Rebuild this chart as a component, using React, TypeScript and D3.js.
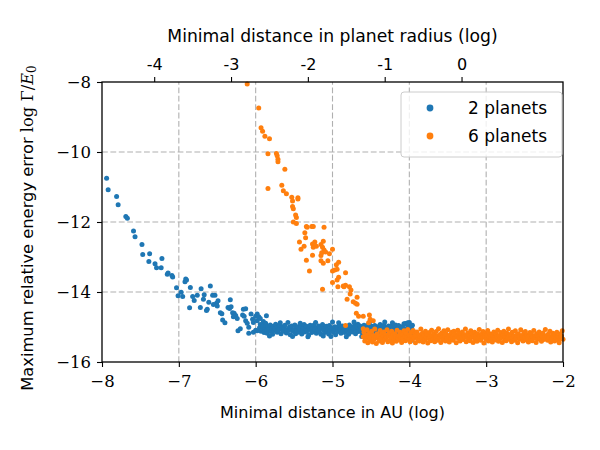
import { useEffect, useRef } from 'react';
import * as d3 from 'd3';

type Pt = [number, number];

// 2 planets: sparse run down from the close encounters
const twoPlanetsSteep: Pt[] = [
  [-7.94, -10.75], [-7.92, -11.08], [-7.81, -11.27], [-7.79, -11.51], [-7.69, -11.84], [-7.67, -11.89],
  [-7.59, -12.26], [-7.57, -12.42], [-7.48, -12.64], [-7.47, -12.93], [-7.38, -12.91], [-7.39, -13.13],
  [-7.31, -13.19], [-7.29, -13.31], [-7.23, -13.31], [-7.22, -13.04], [-7.15, -13.49], [-7.14, -13.46],
  [-7.09, -13.53], [-7.08, -13.57], [-6.91, -13.63], [-6.92, -13.71], [-6.90, -13.66], [-7.03, -13.88],
  [-7.01, -14.11], [-6.97, -14.01], [-6.95, -14.13], [-6.85, -13.87], [-6.86, -14.45], [-6.82, -14.13],
  [-6.80, -14.24], [-6.76, -14.09], [-6.72, -14.44], [-6.71, -13.91], [-6.68, -14.21], [-6.67, -14.08],
  [-6.63, -14.49], [-6.64, -14.53], [-6.61, -14.29], [-6.59, -13.83], [-6.56, -14.09], [-6.53, -14.09],
  [-6.55, -14.36], [-6.51, -14.32], [-6.49, -14.25], [-6.50, -14.40], [-6.46, -14.59], [-6.44, -14.62],
  [-6.43, -14.80], [-6.40, -14.88], [-6.36, -14.44], [-6.33, -14.22], [-6.34, -14.47], [-6.32, -14.42],
  [-6.30, -14.59], [-6.28, -14.61], [-6.26, -14.67], [-6.29, -14.71], [-6.24, -14.76], [-6.23, -15.11],
  [-6.20, -15.05], [-6.16, -14.49], [-6.13, -14.48], [-6.17, -14.66], [-6.15, -14.69], [-6.13, -14.82],
  [-6.11, -14.89], [-6.09, -15.01], [-6.09, -15.18], [-6.06, -14.63], [-6.04, -14.78], [-6.03, -14.87],
  [-6.03, -15.15], [-6.00, -14.69], [-6.00, -15.09], [-5.98, -14.82], [-5.98, -14.63], [-5.96, -14.71],
  [-5.94, -14.76], [-5.90, -14.84], [-5.92, -14.95], [-5.88, -14.99], [-5.87, -14.89], [-5.84, -15.07],
  [-5.98, -15.11], [-5.86, -14.68],
];

// 2 planets: error floor
const twoPlanetsFloor: Pt[] = [
  [-5.95, -15.02], [-5.94, -14.93], [-5.93, -15.12], [-5.92, -15.05], [-5.91, -14.97], [-5.89, -15.16], [-5.88, -15.04], [-5.87, -14.95], [-5.86, -15.09],
  [-5.85, -15.18], [-5.84, -14.99], [-5.83, -15.07], [-5.81, -14.94], [-5.80, -15.13], [-5.79, -15.03], [-5.78, -15.21], [-5.77, -14.98], [-5.76, -15.10],
  [-5.75, -15.05], [-5.74, -14.92], [-5.72, -15.15], [-5.71, -15.01], [-5.70, -15.08], [-5.69, -14.96], [-5.67, -15.19], [-5.66, -15.06], [-5.65, -14.99],
  [-5.64, -15.12], [-5.63, -15.02], [-5.62, -14.95], [-5.60, -15.17], [-5.59, -15.07], [-5.58, -14.87], [-5.57, -15.10], [-5.56, -15.00], [-5.55, -15.22],
  [-5.54, -15.04], [-5.53, -14.97], [-5.51, -15.13], [-5.50, -15.08], [-5.49, -14.94], [-5.48, -15.19], [-5.47, -15.03], [-5.46, -15.11], [-5.45, -14.99],
  [-5.44, -15.15], [-5.43, -15.06], [-5.41, -14.96], [-5.40, -15.20], [-5.39, -15.09], [-5.38, -15.01], [-5.37, -14.93], [-5.36, -15.14], [-5.35, -15.05],
  [-5.34, -14.98], [-5.33, -15.11], [-5.31, -15.23], [-5.30, -15.03], [-5.29, -14.95], [-5.28, -15.08], [-5.27, -15.16], [-5.26, -15.00], [-5.25, -15.12],
  [-5.24, -14.94], [-5.23, -15.06], [-5.21, -15.18], [-5.20, -15.02], [-5.19, -15.10], [-5.18, -14.97], [-5.17, -15.14], [-5.16, -15.05], [-5.15, -15.21],
  [-5.14, -15.01], [-5.13, -14.93], [-5.11, -15.09], [-5.10, -15.16], [-5.09, -15.04], [-5.08, -14.98], [-5.07, -15.12], [-5.06, -15.07], [-5.05, -15.20],
  [-5.04, -14.96], [-5.03, -15.10], [-5.01, -15.03], [-5.00, -14.86], [-4.99, -15.15], [-4.98, -15.06], [-4.97, -14.99], [-4.96, -15.22], [-4.95, -15.08],
  [-4.94, -15.01], [-4.93, -15.13], [-4.91, -14.95], [-4.90, -15.07], [-4.89, -15.18], [-4.88, -15.03], [-4.87, -14.97], [-4.86, -15.11], [-4.85, -15.05],
  [-4.84, -15.16], [-4.83, -14.98], [-4.81, -15.09], [-4.80, -15.02], [-4.79, -15.21], [-4.78, -14.94], [-4.77, -15.12], [-4.76, -15.06], [-4.75, -14.99],
  [-4.74, -15.14], [-4.73, -15.04], [-4.71, -14.96], [-4.70, -15.19], [-4.69, -15.08], [-4.68, -15.00], [-4.67, -14.92], [-4.66, -15.13], [-4.65, -15.05],
  [-4.64, -14.97], [-4.63, -15.10], [-4.61, -15.17], [-4.60, -15.03], [-4.59, -14.95], [-4.58, -15.08], [-4.57, -15.22], [-4.56, -15.01], [-4.55, -15.12],
  [-4.54, -14.94], [-4.53, -15.06], [-4.51, -15.15], [-4.50, -15.02], [-4.49, -14.98], [-4.48, -15.10], [-4.47, -15.19], [-4.46, -15.04], [-4.45, -14.96],
  [-4.44, -15.13], [-4.43, -15.07], [-4.41, -14.99], [-4.40, -15.17], [-4.39, -15.03], [-4.38, -14.93], [-4.37, -15.11], [-4.36, -15.05], [-4.35, -15.20],
  [-4.34, -15.00], [-4.33, -14.95], [-4.31, -15.14], [-4.30, -15.08], [-4.29, -15.02], [-4.28, -15.18], [-4.27, -14.97], [-4.26, -15.10], [-4.25, -15.06],
  [-4.24, -14.98], [-4.23, -15.12], [-4.22, -14.88], [-4.21, -15.04], [-4.20, -15.16], [-4.19, -15.01], [-4.18, -14.94], [-4.17, -15.09], [-4.16, -15.21], [-4.15, -15.05],
  [-4.14, -14.96], [-4.13, -15.13], [-4.11, -15.07], [-4.10, -14.99], [-4.09, -15.18], [-4.08, -15.03], [-4.07, -14.91], [-4.06, -15.11], [-4.05, -14.90],
  [-4.04, -15.06], [-4.03, -15.15], [-4.02, -14.97], [-4.01, -15.02], [-4.00, -14.87], [-3.99, -15.10], [-3.98, -15.24], [-3.97, -15.04], [-3.96, -14.95],
  [-3.95, -15.13], [-3.94, -15.30], [-3.97, -15.38], [-3.99, -15.32], [-4.02, -14.88],
  [-5.82, -15.26], [-5.68, -14.88], [-5.52, -15.27], [-5.42, -14.89], [-5.32, -15.28], [-5.22, -14.87], [-5.12, -15.26],
  [-5.02, -15.27], [-4.92, -14.88], [-4.82, -15.28], [-4.72, -14.86], [-4.62, -15.27], [-4.52, -14.87], [-4.32, -14.86],
];

// 6 planets: steep branch
const sixPlanetsSteep: Pt[] = [
  [-6.11, -8.06], [-5.96, -8.74], [-5.93, -9.31], [-5.91, -9.41], [-5.88, -9.55], [-5.82, -9.62],
  [-5.84, -10.05], [-5.73, -10.04], [-5.72, -10.11], [-5.71, -10.21], [-5.71, -10.28], [-5.62, -10.49],
  [-5.84, -11.04], [-5.66, -10.95], [-5.64, -11.11], [-5.60, -11.19], [-5.53, -11.29], [-5.45, -11.31],
  [-5.52, -11.40], [-5.45, -11.34], [-5.52, -11.56], [-5.51, -11.62], [-5.48, -11.80], [-5.47, -11.87],
  [-5.51, -12.00], [-5.47, -12.04], [-5.34, -12.13], [-5.33, -12.15], [-5.27, -12.13], [-5.25, -12.13],
  [-5.11, -12.15], [-5.36, -12.31], [-5.35, -12.45], [-5.43, -12.57], [-5.41, -12.78], [-5.37, -12.69],
  [-5.26, -12.63], [-5.23, -12.57], [-5.25, -12.72], [-5.21, -12.69], [-5.15, -12.64], [-5.12, -12.55],
  [-5.13, -12.72], [-5.11, -12.80], [-5.14, -12.88], [-5.09, -12.86], [-5.04, -12.91], [-5.00, -12.78],
  [-5.15, -12.96], [-5.26, -12.95], [-5.34, -13.09], [-5.15, -13.11], [-5.12, -13.18], [-5.06, -13.11],
  [-5.30, -13.40], [-4.95, -13.22], [-4.92, -13.15], [-5.00, -13.40], [-4.97, -13.37], [-4.94, -13.35],
  [-4.83, -13.45], [-4.92, -13.58], [-4.94, -13.66], [-5.00, -13.73], [-4.93, -13.85], [-4.85, -13.85],
  [-4.83, -13.81], [-4.78, -13.85], [-4.76, -13.94], [-4.77, -14.06], [-4.68, -14.15], [-4.81, -14.21],
  [-4.73, -14.28], [-4.68, -14.35], [-5.13, -13.92], [-4.86, -13.83], [-4.70, -14.32], [-4.69, -14.61],
  [-4.66, -14.69], [-4.60, -14.69], [-4.52, -14.66], [-4.51, -14.78], [-4.47, -14.82], [-4.53, -14.88],
  [-4.60, -15.05], [-4.83, -14.96],
];

// 6 planets: error floor
const sixPlanetsFloor: Pt[] = [
  [-4.60, -15.28], [-4.59, -15.15], [-4.58, -15.40], [-4.57, -15.22], [-4.56, -15.33], [-4.55, -15.08], [-4.54, -15.45], [-4.53, -15.26], [-4.52, -15.18], [-4.51, -15.37],
  [-4.50, -15.30], [-4.49, -15.12], [-4.48, -15.43], [-4.47, -15.24], [-4.46, -15.35], [-4.45, -15.06], [-4.44, -15.29], [-4.43, -15.47], [-4.42, -15.19], [-4.41, -15.32],
  [-4.40, -15.25], [-4.39, -15.40], [-4.38, -15.10], [-4.37, -15.33], [-4.36, -15.21], [-4.35, -15.44], [-4.34, -15.27], [-4.33, -15.14], [-4.32, -15.36], [-4.31, -15.23],
  [-4.30, -15.31], [-4.29, -15.08], [-4.28, -15.42], [-4.27, -15.26], [-4.26, -15.17], [-4.25, -15.38], [-4.24, -15.29], [-4.23, -15.12], [-4.22, -15.46], [-4.21, -15.22],
  [-4.20, -15.34], [-4.19, -15.19], [-4.18, -15.27], [-4.17, -15.41], [-4.16, -15.09], [-4.15, -15.31], [-4.14, -15.24], [-4.13, -15.37], [-4.12, -15.15], [-4.11, -15.29],
  [-4.10, -15.44], [-4.09, -15.21], [-4.08, -15.33], [-4.07, -15.11], [-4.06, -15.26], [-4.05, -15.39], [-4.04, -15.18], [-4.03, -15.30], [-4.02, -15.07], [-4.01, -15.35],
  [-4.00, -15.23], [-3.99, -15.42], [-3.98, -15.16], [-3.97, -15.28], [-3.96, -15.36], [-3.95, -15.10], [-3.94, -15.31], [-3.93, -15.20], [-3.92, -15.45], [-3.91, -15.26],
  [-3.90, -15.14], [-3.89, -15.34], [-3.88, -15.22], [-3.87, -15.40], [-3.86, -15.28], [-3.85, -15.06], [-3.84, -15.32], [-3.83, -15.18], [-3.82, -15.43], [-3.81, -15.25],
  [-3.80, -15.37], [-3.79, -15.12], [-3.78, -15.29], [-3.77, -15.21], [-3.76, -15.46], [-3.75, -15.33], [-3.74, -15.16], [-3.73, -15.27], [-3.72, -15.39], [-3.71, -15.09],
  [-3.70, -15.24], [-3.69, -15.35], [-3.68, -15.19], [-3.67, -15.42], [-3.66, -15.30], [-3.65, -15.13], [-3.64, -15.26], [-3.63, -15.38], [-3.62, -15.05], [-3.61, -15.31],
  [-3.60, -15.22], [-3.59, -15.44], [-3.58, -15.17], [-3.57, -15.29], [-3.56, -15.36], [-3.55, -15.11], [-3.54, -15.25], [-3.53, -15.40], [-3.52, -15.20], [-3.51, -15.32],
  [-3.50, -15.08], [-3.49, -15.28], [-3.48, -15.43], [-3.47, -15.23], [-3.46, -15.34], [-3.45, -15.15], [-3.44, -15.27], [-3.43, -15.38], [-3.42, -15.12], [-3.41, -15.30],
  [-3.40, -15.21], [-3.39, -15.45], [-3.38, -15.26], [-3.37, -15.09], [-3.36, -15.33], [-3.35, -15.18], [-3.34, -15.40], [-3.33, -15.24], [-3.32, -15.31], [-3.31, -15.14],
  [-3.30, -15.36], [-3.29, -15.22], [-3.28, -15.29], [-3.27, -15.06], [-3.26, -15.42], [-3.25, -15.27], [-3.24, -15.17], [-3.23, -15.34], [-3.22, -15.25], [-3.21, -15.39],
  [-3.20, -15.11], [-3.19, -15.30], [-3.18, -15.20], [-3.17, -15.44], [-3.16, -15.28], [-3.15, -15.15], [-3.14, -15.35], [-3.13, -15.23], [-3.12, -15.41], [-3.11, -15.19],
  [-3.10, -15.32], [-3.09, -15.07], [-3.08, -15.26], [-3.07, -15.38], [-3.06, -15.21], [-3.05, -15.30], [-3.04, -15.13], [-3.03, -15.46], [-3.02, -15.27], [-3.01, -15.18],
  [-3.00, -15.35], [-2.99, -15.24], [-2.98, -15.10], [-2.97, -15.40], [-2.96, -15.29], [-2.95, -15.19], [-2.94, -15.33], [-2.93, -15.22], [-2.92, -15.43], [-2.91, -15.26],
  [-2.90, -15.14], [-2.89, -15.31], [-2.88, -15.37], [-2.87, -15.20], [-2.86, -15.28], [-2.85, -15.09], [-2.84, -15.41], [-2.83, -15.25], [-2.82, -15.33], [-2.81, -15.16],
  [-2.80, -15.29], [-2.79, -15.44], [-2.78, -15.22], [-2.77, -15.12], [-2.76, -15.34], [-2.75, -15.27], [-2.74, -15.39], [-2.73, -15.18], [-2.72, -15.31], [-2.71, -15.06],
  [-2.70, -15.25], [-2.69, -15.36], [-2.68, -15.21], [-2.67, -15.42], [-2.66, -15.15], [-2.65, -15.30], [-2.64, -15.26], [-2.63, -15.38], [-2.62, -15.11], [-2.61, -15.33],
  [-2.60, -15.23], [-2.59, -15.45], [-2.58, -15.19], [-2.57, -15.28], [-2.56, -15.35], [-2.55, -15.08], [-2.54, -15.31], [-2.53, -15.24], [-2.52, -15.40], [-2.51, -15.17],
  [-2.50, -15.29], [-2.49, -15.13], [-2.48, -15.37], [-2.47, -15.22], [-2.46, -15.32], [-2.45, -15.43], [-2.44, -15.26], [-2.43, -15.16], [-2.42, -15.34], [-2.41, -15.21],
  [-2.40, -15.39], [-2.39, -15.27], [-2.38, -15.10], [-2.37, -15.31], [-2.36, -15.24], [-2.35, -15.44], [-2.34, -15.19], [-2.33, -15.35], [-2.32, -15.28], [-2.31, -15.14],
  [-2.30, -15.32], [-2.29, -15.22], [-2.28, -15.41], [-2.27, -15.26], [-2.26, -15.17], [-2.25, -15.36], [-2.24, -15.29], [-2.23, -15.07], [-2.22, -15.33], [-2.21, -15.24],
  [-2.20, -15.38], [-2.19, -15.20], [-2.18, -15.30], [-2.17, -15.12], [-2.16, -15.43], [-2.15, -15.27], [-2.14, -15.34], [-2.13, -15.18], [-2.12, -15.25], [-2.11, -15.40],
  [-2.10, -15.22], [-2.09, -15.31], [-2.08, -15.15], [-2.07, -15.37], [-2.06, -15.28], [-2.05, -15.45], [-2.04, -15.20], [-2.03, -15.33], [-2.02, -15.26], [-2.01, -15.11], [-2.00, -15.35],
];

const seriesNames = ['2 planets', '6 planets'];
const seriesColors = ['#1f77b4', '#ff7f0e'];
const xTicks = [-8, -7, -6, -5, -4, -3, -2];
const yTicks = [-16, -14, -12, -10, -8];
const topTicks = [-4, -3, -2, -1, 0];

// log10 of 1 AU expressed in Jupiter radii
const AU_IN_RJUP = Math.log10(1.496e11 / 7.1492e7);

const SANS = '"DejaVu Sans", sans-serif';
const SERIF = '"DejaVu Serif", serif';

const App = () => {
  const svgRef = useRef<SVGSVGElement>(null);

  useEffect(() => {
    const svg = d3.select(svgRef.current);
    svg.selectAll('*').remove();

    const margin = { top: 82, right: 37, bottom: 88, left: 102 };
    const width = 600 - margin.left - margin.right;
    const height = 450 - margin.top - margin.bottom;

    const x = d3.scaleLinear().domain([-8, -2]).range([0, width]);
    const xTop = d3.scaleLinear().domain([-8 + AU_IN_RJUP, -2 + AU_IN_RJUP]).range([0, width]);
    const y = d3.scaleLinear().domain([-16, -8]).range([height, 0]);

    const g = svg.append('g').attr('transform', `translate(${margin.left},${margin.top})`);

    // dashed grid
    const grid = g.append('g').attr('stroke', '#b0b0b0').attr('stroke-width', 1.1).attr('stroke-dasharray', '5.8,2.6');
    grid.selectAll('line.vx').data(xTicks.slice(1, -1)).join('line')
      .attr('class', 'vx')
      .attr('x1', d => x(d)).attr('x2', d => x(d))
      .attr('y1', height).attr('y2', 0);
    grid.selectAll('line.hy').data(yTicks.slice(1, -1)).join('line')
      .attr('class', 'hy')
      .attr('x1', 0).attr('x2', width)
      .attr('y1', d => y(d)).attr('y2', d => y(d));

    const series = [
      [...twoPlanetsSteep, ...twoPlanetsFloor],
      [...sixPlanetsSteep, ...sixPlanetsFloor],
    ];
    series.forEach((pts, i) => {
      g.append('g').attr('fill', seriesColors[i])
        .selectAll('circle').data(pts).join('circle')
        .attr('cx', d => x(d[0]))
        .attr('cy', d => y(d[1]))
        .attr('r', 2.5);
    });

    // axes
    const styleAxis = (sel: d3.Selection<SVGGElement, unknown, null, undefined>, font: string, size: number) => {
      sel.select('.domain').remove();
      sel.selectAll('.tick line').attr('stroke', '#000').attr('stroke-width', 1.1);
      sel.selectAll('.tick text').attr('fill', '#000').style('font-family', font).style('font-size', `${size}px`);
    };

    g.append('g')
      .attr('transform', `translate(0,${height})`)
      .call(d3.axisBottom(x).tickValues(xTicks).tickSize(5).tickPadding(8).tickFormat(d3.format('d')))
      .call(s => styleAxis(s, SERIF, 16.5));

    g.append('g')
      .call(d3.axisLeft(y).tickValues(yTicks).tickSize(5).tickPadding(6).tickFormat(d3.format('d')))
      .call(s => styleAxis(s, SERIF, 16.5));

    g.append('g')
      .call(d3.axisTop(xTop).tickValues(topTicks).tickSize(5).tickPadding(7).tickFormat(d => String(d)))
      .call(s => styleAxis(s, SANS, 16));

    g.append('rect')
      .attr('width', width).attr('height', height)
      .attr('fill', 'none').attr('stroke', '#000').attr('stroke-width', 1.3);

    // axis titles
    svg.append('text')
      .attr('x', margin.left + width / 2).attr('y', 418)
      .attr('text-anchor', 'middle')
      .style('font-family', SANS).style('font-size', '16px')
      .text('Minimal distance in AU (log)');

    svg.append('text')
      .attr('x', margin.left + width / 2).attr('y', 42)
      .attr('text-anchor', 'middle')
      .style('font-family', SANS).style('font-size', '17.2px')
      .text('Minimal distance in planet radius (log)');

    const yLabel = svg.append('text')
      .attr('transform', `translate(33,${margin.top + height / 2 + 6}) rotate(-90)`)
      .attr('text-anchor', 'middle')
      .style('font-family', SANS).style('font-size', '16.3px');
    yLabel.append('tspan').text('Maximum relative energy error ');
    yLabel.append('tspan').style('font-family', SERIF).text('log Γ/');
    yLabel.append('tspan').style('font-family', SERIF).style('font-style', 'italic').text('E');
    yLabel.append('tspan').style('font-family', SERIF).style('font-size', '12px').attr('dy', 3).text('0');

    // legend
    const lg = g.append('g').attr('transform', `translate(${width - 162},10)`);
    lg.append('rect')
      .attr('width', 161).attr('height', 65).attr('rx', 3)
      .attr('fill', '#fff').attr('fill-opacity', 0.8)
      .attr('stroke', '#cccccc').attr('stroke-width', 1);
    seriesNames.forEach((name, i) => {
      lg.append('circle').attr('cx', 29).attr('cy', 16 + i * 28).attr('r', 3.4).attr('fill', seriesColors[i]);
      lg.append('text')
        .attr('x', 146).attr('y', 16 + i * 28).attr('dy', '0.35em')
        .attr('text-anchor', 'end')
        .style('font-family', SANS).style('font-size', '17px')
        .text(name);
    });
  }, []);

  return (
    <div style={{ position: 'absolute', left: 0, top: 0 }}>
      <svg ref={svgRef} width={600} height={450} style={{ display: 'block', background: '#fff' }} />
    </div>
  );
};

export default App;
